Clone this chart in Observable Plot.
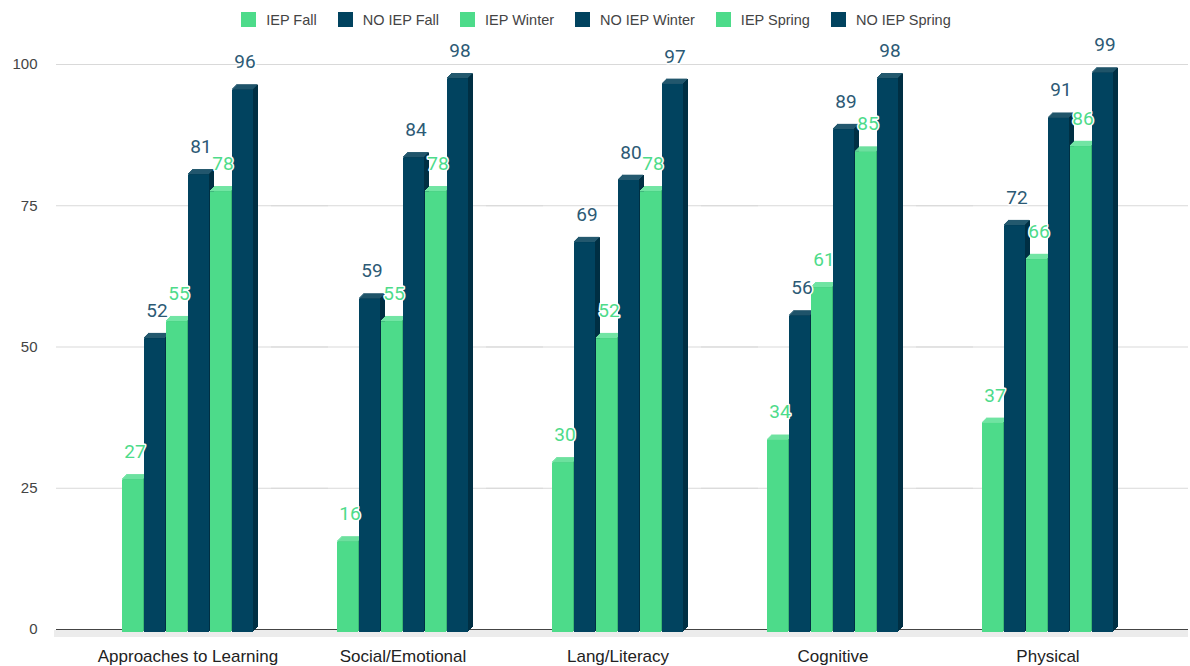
<!DOCTYPE html>
<html><head><meta charset="utf-8">
<script src="https://cdn.jsdelivr.net/npm/d3@7"></script>
<script src="https://cdn.jsdelivr.net/npm/@observablehq/plot@0.6"></script>
<style>
body{margin:0;background:#fff;}
#legend{box-sizing:border-box;height:36px;padding-top:3px;display:flex;justify-content:center;align-items:center;font:14.5px "Liberation Sans",Arial,sans-serif;color:#444;padding-left:2px;}
.item{display:flex;align-items:center;margin:0 10.5px;}
.sw{width:15px;height:15px;margin-right:10px;}
</style></head><body>
<div id="legend"></div>
<div id="chart"></div>
<script>
const categories = ["Approaches to Learning", "Social/Emotional", "Lang/Literacy", "Cognitive", "Physical"];
const seriesNames = ["IEP Fall", "NO IEP Fall", "IEP Winter", "NO IEP Winter", "IEP Spring", "NO IEP Spring"];
const iepFall     = [27, 16, 30, 34, 37];
const noIepFall   = [52, 59, 69, 56, 72];
const iepWinter   = [55, 55, 52, 61, 66];
const noIepWinter = [81, 84, 80, 89, 91];
const iepSpring   = [78, 78, 78, 85, 86];
const noIepSpring = [96, 98, 97, 98, 99];
const yTicks = [0, 25, 50, 75, 100];

const seriesValues = [iepFall, noIepFall, iepWinter, noIepWinter, iepSpring, noIepSpring];
const data = categories.flatMap((c, i) => seriesNames.map((s, j) => ({category: c, series: s, value: seriesValues[j][i]})));

const isIep = s => s.startsWith("IEP");
const front = d => isIep(d.series) ? "#4ddb8a" : "#01435f";
const topC  = d => isIep(d.series) ? "#72e5a4" : "#24596f";
const sideC = d => isIep(d.series) ? "#3cb873" : "#002f43";
const labelC = d => isIep(d.series) ? "#4ddb8a" : "#2c5a75";

// legend
const legend = document.getElementById("legend");
seriesNames.forEach(s => {
  const it = document.createElement("div"); it.className = "item";
  const sw = document.createElement("div"); sw.className = "sw";
  sw.style.background = isIep(s) ? "#4ddb8a" : "#01435f";
  const t = document.createElement("span"); t.textContent = s;
  it.append(sw, t); legend.append(it);
});

const D = 5;   // 3D depth in px
const S = 3;   // bars sit slightly into the floor
const base = {fx: "category", x: "series"};
const sideMarks = d3.range(1, D + 1).map(k => Plot.barY(data, {...base, y: "value", fill: sideC, dx: k, dy: S - k}));
const topMarks = d3.range(0, D).map(k => Plot.barY(data, {...base, y1: "value", y2: "value", insetTop: -1.3, fill: topC, dx: k, dy: S - k}));

const chart = Plot.plot({
  width: 1190, height: 630,
  marginLeft: 55, marginRight: 0, marginTop: 28, marginBottom: 37,
  style: {fontFamily: '"Liberation Sans", Arial, sans-serif', background: "#fff"},
  fx: {domain: categories, paddingInner: 0, paddingOuter: 0.1334, align: 0.417, axis: null},
  x: {domain: seriesNames, paddingInner: 0.05, paddingOuter: 1.79, align: 0.5, axis: null},
  y: {domain: [0, 100], axis: null},
  marks: [
    Plot.ruleY([0], {stroke: "#ececec", strokeWidth: 7, dy: 4, insetLeft: -26, insetRight: -33}),
    Plot.ruleY(yTicks.filter(t => t > 0), {stroke: "#d9d9d9", insetLeft: -24, insetRight: -33}),
    Plot.ruleY([0], {stroke: "#444", insetLeft: -24, insetRight: -33}),
    ...sideMarks,
    ...topMarks,
    Plot.barY(data, {...base, y: "value", fill: front, dy: S}),
    Plot.text(data, {...base, y: "value", text: d => String(d.value), fill: labelC, stroke: "white", strokeWidth: 3, paintOrder: "stroke", fontSize: 19, fontFamily: "Roboto", dy: -25, dx: 2}),
    Plot.axisY({ticks: yTicks, tickSize: 0, tickPadding: 43, fontSize: 15, color: "#444", label: null}),
    Plot.axisFx({anchor: "bottom", tickSize: 0, tickPadding: 20, fontSize: 17, color: "#222", label: null})
  ]
});
document.getElementById("chart").append(chart);
</script>
</body></html>
